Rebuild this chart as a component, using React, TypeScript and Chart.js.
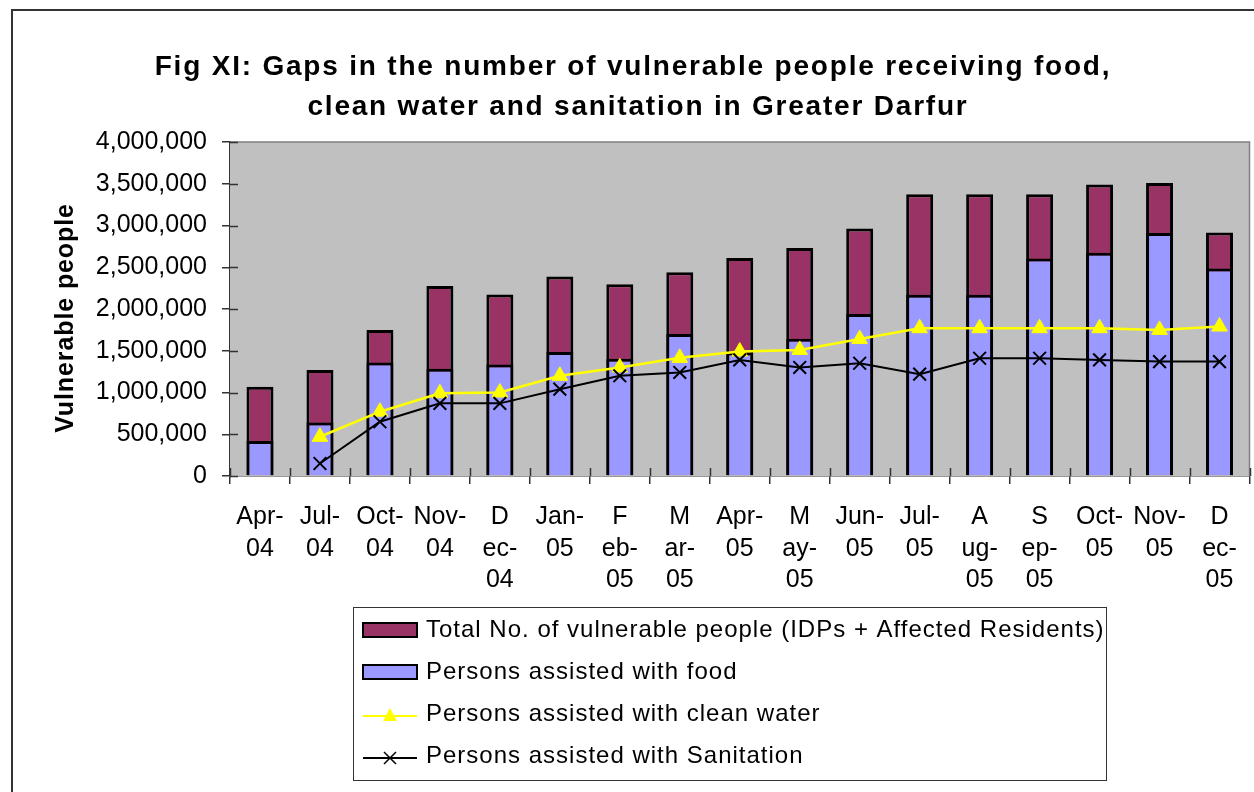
import React, { useEffect, useRef } from 'react';
import { Chart, registerables } from 'chart.js';

Chart.register(...registerables);

// Month labels, wrapped the way they appear under each bar
const months: string[][] = [
  ['Apr-', '04'], ['Jul-', '04'], ['Oct-', '04'], ['Nov-', '04'], ['D', 'ec-', '04'],
  ['Jan-', '05'], ['F', 'eb-', '05'], ['M', 'ar-', '05'], ['Apr-', '05'], ['M', 'ay-', '05'],
  ['Jun-', '05'], ['Jul-', '05'], ['A', 'ug-', '05'], ['S', 'ep-', '05'], ['Oct-', '05'],
  ['Nov-', '05'], ['D', 'ec-', '05'],
];

// Total No. of vulnerable people (IDPs + Affected Residents)
const totalVulnerable = [
  1070000, 1270000, 1750000, 2275000, 2175000, 2390000, 2295000, 2440000, 2610000,
  2730000, 2965000, 3375000, 3375000, 3375000, 3490000, 3510000, 2915000,
];

// Persons assisted with food
const foodAssisted = [
  420000, 640000, 1360000, 1285000, 1335000, 1485000, 1405000, 1700000, 1480000,
  1645000, 1940000, 2170000, 2170000, 2605000, 2675000, 2910000, 2485000,
];

// Persons assisted with clean water
const waterAssisted: (number | null)[] = [
  null, 470000, 770000, 990000, 1000000, 1200000, 1300000, 1415000, 1490000,
  1510000, 1640000, 1770000, 1770000, 1770000, 1770000, 1750000, 1790000,
];

// Persons assisted with Sanitation
const sanitationAssisted: (number | null)[] = [
  null, 150000, 650000, 870000, 870000, 1040000, 1200000, 1240000, 1390000,
  1300000, 1350000, 1220000, 1410000, 1410000, 1390000, 1370000, 1370000,
];

const titleLines = [
  'Fig XI: Gaps in the number of vulnerable people receiving food,',
  'clean water and sanitation in Greater Darfur',
];
const yAxisTitle = 'Vulnerable people';
const seriesNames = [
  'Total No. of vulnerable people (IDPs + Affected Residents)',
  'Persons assisted with food',
  'Persons assisted with clean water',
  'Persons assisted with Sanitation',
];

const FONT = '"Liberation Sans", Arial, Helvetica, sans-serif';
const TOTAL_COLOR = '#993366';
const FOOD_COLOR = '#9999FF';
const WATER_COLOR = '#FFFF00';
const SANITATION_COLOR = '#000000';
const AXIS_COLOR = '#333333';

// Grey plot area with a grey frame on the top and right edges
const plotBackground = {
  id: 'plotBackground',
  beforeDatasetsDraw(chart: any) {
    const { ctx, chartArea: a } = chart;
    ctx.save();
    ctx.fillStyle = '#C0C0C0';
    ctx.fillRect(a.left, a.top, a.right - a.left, a.bottom - a.top);
    ctx.strokeStyle = '#808080';
    ctx.lineWidth = 1.5;
    ctx.beginPath();
    ctx.moveTo(a.left, a.top);
    ctx.lineTo(a.right, a.top);
    ctx.lineTo(a.right, a.bottom);
    ctx.stroke();
    ctx.restore();
  },
};

// Tick marks that cross into the plot area on both axes
const innerTicks = {
  id: 'innerTicks',
  afterDatasetsDraw(chart: any) {
    const { ctx, chartArea: a, scales } = chart;
    ctx.save();
    ctx.strokeStyle = AXIS_COLOR;
    ctx.lineWidth = 1.5;
    ctx.beginPath();
    const yScale = scales.y;
    yScale.ticks.forEach((_t: any, i: number) => {
      const y = Math.round(yScale.getPixelForTick(i)) + 0.5;
      ctx.moveTo(a.left, y);
      ctx.lineTo(a.left + 8, y);
    });
    const n = months.length;
    for (let i = 0; i <= n; i++) {
      const x = Math.round(a.left + (i * (a.right - a.left)) / n) + 0.5;
      ctx.moveTo(x, a.bottom);
      ctx.lineTo(x, a.bottom - 8);
    }
    ctx.stroke();
    ctx.restore();
  },
};

// Spaced-out chart title and y-axis title
const spacedTitles = {
  id: 'spacedTitles',
  afterDraw(chart: any) {
    const { ctx, chartArea: a } = chart;
    ctx.save();
    ctx.fillStyle = '#000';
    ctx.textAlign = 'center';
    ctx.textBaseline = 'middle';
    ctx.font = `bold 28px ${FONT}`;
    (ctx as any).letterSpacing = '1.8px';
    ctx.fillText(titleLines[0], 633, 67);
    ctx.fillText(titleLines[1], 638, 107);

    ctx.font = `bold 25px ${FONT}`;
    (ctx as any).letterSpacing = '0.9px';
    ctx.translate(66, (a.top + a.bottom) / 2 + 9);
    ctx.rotate(-Math.PI / 2);
    ctx.fillText(yAxisTitle, 0, 0);
    ctx.restore();
  },
};

// Boxed legend with one series per row, below the axis labels
const boxedLegend = {
  id: 'boxedLegend',
  afterDraw(chart: any) {
    const { ctx } = chart;
    const box = { left: 353, top: 607, right: 1106, bottom: 780 };
    const rows = [630, 672, 714, 756];
    const swL = 363;
    const swR = 417;
    const textX = 426;
    ctx.save();
    ctx.fillStyle = '#ffffff';
    ctx.fillRect(box.left, box.top, box.right - box.left, box.bottom - box.top);
    ctx.strokeStyle = '#333333';
    ctx.lineWidth = 1;
    ctx.strokeRect(box.left + 0.5, box.top + 0.5, box.right - box.left, box.bottom - box.top);

    chart.data.datasets.forEach((ds: any, i: number) => {
      const y = rows[i];
      if (ds.type === 'bar') {
        ctx.fillStyle = ds.backgroundColor;
        ctx.strokeStyle = '#000';
        ctx.lineWidth = 2;
        ctx.fillRect(swL, y - 7, swR - swL, 14);
        ctx.strokeRect(swL, y - 7, swR - swL, 14);
      } else {
        ctx.strokeStyle = ds.borderColor;
        ctx.lineWidth = 2;
        ctx.beginPath();
        ctx.moveTo(swL, y + 2);
        ctx.lineTo(swR, y + 2);
        ctx.stroke();
        const cx = (swL + swR) / 2;
        if (ds.pointStyle === 'triangle') {
          ctx.fillStyle = ds.pointBackgroundColor;
          ctx.beginPath();
          ctx.moveTo(cx, y - 6);
          ctx.lineTo(cx + 7, y + 7);
          ctx.lineTo(cx - 7, y + 7);
          ctx.closePath();
          ctx.fill();
        } else {
          ctx.lineWidth = 1.5;
          ctx.beginPath();
          ctx.moveTo(cx - 6, y - 4);
          ctx.lineTo(cx + 6, y + 8);
          ctx.moveTo(cx + 6, y - 4);
          ctx.lineTo(cx - 6, y + 8);
          ctx.stroke();
        }
      }
      ctx.fillStyle = '#000';
      ctx.font = `24px ${FONT}`;
      (ctx as any).letterSpacing = '1px';
      ctx.textAlign = 'left';
      ctx.textBaseline = 'middle';
      ctx.fillText(ds.label, textX, y);
    });
    ctx.restore();
  },
};

export default function App() {
  const canvasRef = useRef<HTMLCanvasElement | null>(null);

  useEffect(() => {
    const canvas = canvasRef.current;
    if (!canvas) return;
    const chart = new Chart(canvas, {
      type: 'bar',
      data: {
        labels: months,
        datasets: [
          {
            type: 'bar',
            label: seriesNames[0],
            data: totalVulnerable,
            backgroundColor: TOTAL_COLOR,
            borderColor: '#000',
            borderWidth: 3,
            grouped: false,
            barPercentage: 0.45,
            categoryPercentage: 1,
            order: 4,
          },
          {
            type: 'bar',
            label: seriesNames[1],
            data: foodAssisted,
            backgroundColor: FOOD_COLOR,
            borderColor: '#000',
            borderWidth: 3,
            grouped: false,
            barPercentage: 0.45,
            categoryPercentage: 1,
            order: 3,
          },
          {
            type: 'line',
            label: seriesNames[2],
            data: waterAssisted,
            borderColor: WATER_COLOR,
            backgroundColor: WATER_COLOR,
            borderWidth: 2.5,
            pointStyle: 'triangle',
            pointRadius: 9,
            pointBackgroundColor: WATER_COLOR,
            pointBorderColor: WATER_COLOR,
            pointBorderWidth: 1,
            tension: 0,
            spanGaps: false,
            order: 2,
          },
          {
            type: 'line',
            label: seriesNames[3],
            data: sanitationAssisted,
            borderColor: SANITATION_COLOR,
            backgroundColor: SANITATION_COLOR,
            borderWidth: 2,
            pointStyle: 'crossRot',
            pointRadius: 9,
            pointBorderColor: SANITATION_COLOR,
            pointBorderWidth: 2,
            tension: 0,
            spanGaps: false,
            order: 1,
          },
        ] as any,
      },
      options: {
        responsive: false,
        animation: false,
        devicePixelRatio: 1,
        layout: { autoPadding: false, padding: { left: 11, right: 4, top: 142, bottom: 191 } },
        plugins: {
          legend: { display: false },
          tooltip: { enabled: false },
          title: { display: false },
        },
        scales: {
          x: {
            offset: true,
            ticks: {
              color: '#000',
              font: { family: FONT, size: 25, lineHeight: 1.27 },
              padding: 17,
              maxRotation: 0,
              minRotation: 0,
              autoSkip: false,
            },
            grid: {
              offset: true,
              drawOnChartArea: false,
              drawTicks: true,
              tickLength: 8,
              color: AXIS_COLOR,
              lineWidth: 1.5,
            },
            border: { color: AXIS_COLOR, width: 1.5 },
            afterFit(scale: any) {
              scale.height = 125;
            },
          },
          y: {
            min: 0,
            max: 4000000,
            ticks: {
              stepSize: 500000,
              color: '#000',
              font: { family: FONT, size: 25 },
              padding: 15,
              callback: (v: any) => Number(v).toLocaleString('en-US'),
            },
            grid: {
              drawOnChartArea: false,
              drawTicks: true,
              tickLength: 8,
              color: AXIS_COLOR,
              lineWidth: 1.5,
            },
            border: { color: AXIS_COLOR, width: 1.5 },
            afterFit(scale: any) {
              scale.width = 219;
            },
          },
        },
      },
      plugins: [plotBackground, innerTicks, spacedTitles, boxedLegend],
    });
    return () => chart.destroy();
  }, []);

  return (
    <div
      style={{
        position: 'fixed',
        left: 0,
        top: 0,
        width: 1254,
        height: 792,
        overflow: 'hidden',
        background: '#fff',
      }}
    >
      <div
        style={{
          position: 'absolute',
          left: 11,
          top: 9,
          width: 1300,
          height: 900,
          border: '2px solid #333',
        }}
      />
      <canvas
        ref={canvasRef}
        width={1254}
        height={792}
        style={{ position: 'absolute', left: 0, top: 0, width: 1254, height: 792 }}
      />
    </div>
  );
}
